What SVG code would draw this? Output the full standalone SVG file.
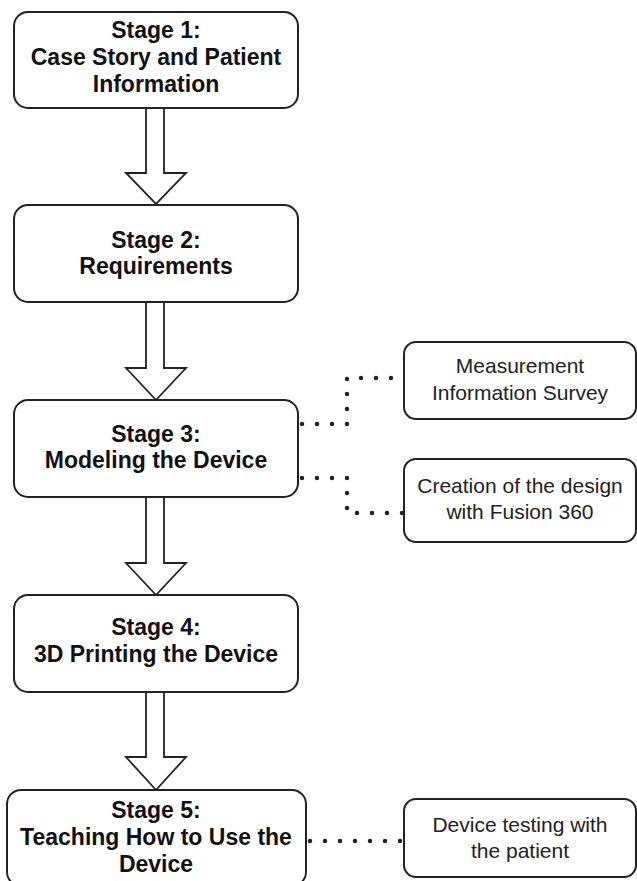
<svg xmlns="http://www.w3.org/2000/svg" width="637" height="881" viewBox="0 0 637 881">
<style>
.box{fill:#fff;stroke:#222;stroke-width:2}
.st{font-family:"Liberation Sans",Arial,sans-serif;font-weight:bold;font-size:23px;fill:#111;text-anchor:middle}
.sub{font-family:"Liberation Sans",Arial,sans-serif;font-size:21px;fill:#222;text-anchor:middle}
.arrow{fill:#fff;stroke:#222;stroke-width:1.8;stroke-linejoin:miter}
.dot{fill:none;stroke:#222;stroke-width:4.5;stroke-linecap:round;stroke-dasharray:0 15}
</style>
<rect width="637" height="881" fill="#fff"/>
<g id="connectors">
<path class="arrow" d="M146,108 V173 H126 L156,204 L186,173 H164 V108 Z"/>
<path class="arrow" d="M146,302 V368 H126 L156,400 L186,368 H164 V302 Z"/>
<path class="arrow" d="M146,497 V563 H126 L156,595 L186,563 H164 V497 Z"/>
<path class="arrow" d="M146,692 V757 H126 L156,790 L186,757 H164 V692 Z"/>
<path class="dot" d="M302,424 H347 V378 H404"/>
<path class="dot" d="M302,478 H347 V513 H404"/>
<path class="dot" d="M310,841 H404"/>
</g>
<g id="stage1">
<rect class="box" x="14" y="12" width="284" height="96" rx="14"/>
<text class="st" x="156" y="38">Stage 1:</text>
<text class="st" x="156" y="65">Case Story and Patient</text>
<text class="st" x="156" y="92">Information</text>
</g>
<g id="stage2">
<rect class="box" x="14" y="205" width="284" height="97" rx="14"/>
<text class="st" x="156" y="248">Stage 2:</text>
<text class="st" x="156" y="274">Requirements</text>
</g>
<g id="stage3">
<rect class="box" x="14" y="400" width="284" height="97" rx="14"/>
<text class="st" x="156" y="442">Stage 3:</text>
<text class="st" x="156" y="468">Modeling the Device</text>
</g>
<g id="stage4">
<rect class="box" x="14" y="595" width="284" height="97" rx="14"/>
<text class="st" x="156" y="635">Stage 4:</text>
<text class="st" x="156" y="662">3D Printing the Device</text>
</g>
<g id="stage5">
<rect class="box" x="7" y="790" width="299" height="96" rx="14"/>
<text class="st" x="156" y="818">Stage 5:</text>
<text class="st" x="156" y="845">Teaching How to Use the</text>
<text class="st" x="156" y="872">Device</text>
</g>
<g id="measurement">
<rect class="box" x="404" y="342" width="232" height="77" rx="12"/>
<text class="sub" x="520" y="373">Measurement</text>
<text class="sub" x="520" y="400">Information Survey</text>
</g>
<g id="creation">
<rect class="box" x="404" y="459" width="232" height="83" rx="12"/>
<text class="sub" x="520" y="493">Creation of the design</text>
<text class="sub" x="520" y="519">with Fusion 360</text>
</g>
<g id="testing">
<rect class="box" x="404" y="799" width="232" height="78" rx="12"/>
<text class="sub" x="520" y="832">Device testing with</text>
<text class="sub" x="520" y="858">the patient</text>
</g>
</svg>
